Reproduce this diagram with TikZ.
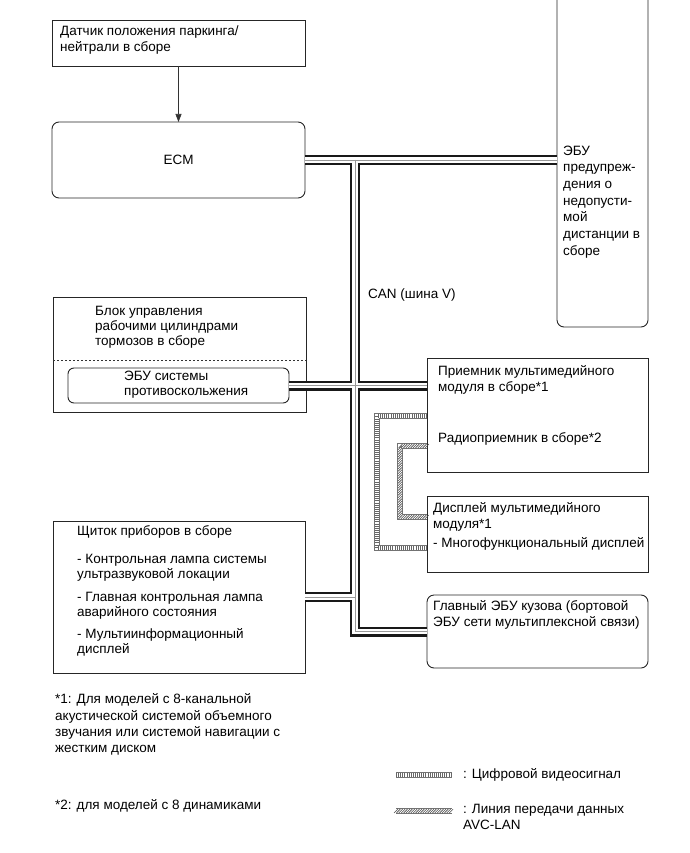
\documentclass[tikz,border=0pt]{standalone}
\usepackage{fontspec}
\setmainfont{Liberation Sans}
\usepackage{tikz}
\usetikzlibrary{arrows.meta, positioning, calc, decorations.markings}

\begin{document}
\begin{tikzpicture}[
  x=1pt, y=-1pt,
  font=\fontsize{13.5}{16}\selectfont,
  box/.style={draw=black!85, line width=0.9pt, inner sep=0pt, outer sep=0pt, anchor=north west},
  rbox/.style={box, rounded corners=7pt},
  txt/.style={align=left, inner sep=0pt, anchor=north west, execute at begin node=\strut},
  arr/.style={-{Triangle[length=8pt, width=6pt]}, line width=0.6pt, black!80},
  can/.style={line width=10pt, black!90, line join=miter,
              postaction={draw, white, line width=5.6pt},
              postaction={draw, black!40, line width=0.9pt}},
  video/.style={draw=black!55, line width=6pt, line join=miter,
                postaction={draw, white, line width=4.4pt},
                postaction={draw, black!60, line width=4.4pt, dash pattern=on 0.8pt off 1.3pt}},
  avc/.style={draw=black!55, line width=6pt, line join=miter,
              postaction={draw, white, line width=4.4pt},
              postaction={decorate, decoration={markings,
                mark=between positions 0 and 1 step 2.4pt with {\pgftransformresetnontranslations
                  \draw[black!70, line width=0.6pt] (-1.9pt,-1.9pt) -- (1.9pt,1.9pt);}}}}
]
\path[use as bounding box, clip] (0,0) rectangle (689,853);

\node[box, minimum width=253pt, minimum height=46pt] (sensor) at (52,20) {};
\node[txt, below right=5.5pt and 8pt of sensor.north west] (sensortxt) {Датчик положения паркинга/\\нейтрали в сборе};
\node[rbox, minimum width=253pt, minimum height=76pt] (ecm) at (52,122) {ECM};
\node[rbox, minimum width=91pt, minimum height=339pt] (warn) at (557,-12) {};
\node[txt, font=\fontsize{13.5}{16.7}\selectfont, below right=157.5pt and 6pt of warn.north west] (warntxt)
  {ЭБУ\\предупреж-\\дения о\\недопусти-\\мой\\дистанции в\\сборе};

\node[box, minimum width=253pt, minimum height=115pt] (brake) at (53,297) {};
\node[txt, font=\fontsize{13.5}{15}\selectfont, below right=9.5pt and 42pt of brake.north west] (braketxt)
  {Блок управления\\рабочими цилиндрами\\тормозов в сборе};
\draw[black!80, line width=0.8pt, dash pattern=on 2pt off 2pt]
  ($(brake.north west)+(0,63)$) -- ($(brake.north east)+(0,63)$);
\node[rbox, rounded corners=6pt, minimum width=221pt, minimum height=35pt] (abs) at (68,368) {};
\node[txt, font=\fontsize{13.5}{15}\selectfont, below right=2.5pt and 56pt of abs.north west] (abstxt)
  {ЭБУ системы\\противоскольжения};

\node[box, minimum width=252pt, minimum height=152pt] (cluster) at (53,521) {};
\node[txt, font=\fontsize{13.5}{15}\selectfont, below right=4.5pt and 24pt of cluster.north west] (clustertxt)
  {Щиток приборов в сборе\\[13pt]- Контрольная лампа системы\\ультразвуковой локации\\[8pt]- Главная контрольная лампа\\аварийного состояния\\[7pt]- Мультиинформационный\\дисплей};

\node[box, minimum width=221pt, minimum height=114pt] (rcv) at (427,358) {};
\node[txt, below right=7.5pt and 11pt of rcv.north west] (rcvtxt) {Приемник мультимедийного\\модуля в сборе*1};
\node[txt, below right=73.5pt and 11pt of rcv.north west] (radiotxt) {Радиоприемник в сборе*2};

\node[box, minimum width=221pt, minimum height=76pt] (dsp) at (427,496) {};
\node[txt, below right=6.5pt and 6pt of dsp.north west] (dsptxt)
  {Дисплей мультимедийного\\модуля*1\\[3pt]- Многофункциональный дисплей};

\node[rbox, minimum width=221pt, minimum height=73pt] (bcm) at (427,595) {};
\node[txt, below right=5pt and 6pt of bcm.north west] (bcmtxt)
  {Главный ЭБУ кузова (бортовой\\ЭБУ сети мультиплексной связи)};

\coordinate (jtop) at (355,160);
\node[anchor=west, inner sep=0pt] (canlbl) at (368,295) {CAN (шина V)};

\draw[arr] (sensor) -- (ecm);

\draw[can] (ecm.east) -- (ecm.east -| warn.west)
  (jtop) |- (bcm.west)
  (abs.east) -- (abs.east -| rcv.west)
  (cluster.east) -- (cluster.east -| jtop);

\draw[video] ($(rcv.north west)+(0,58)$) -- ++(-50,0) |- ($(dsp.north west)+(0,52)$);
\draw[avc] ($(rcv.north west)+(0,88)$) -- ++(-27,0) |- ($(dsp.north west)+(0,21)$);

\node[txt, font=\fontsize{13.5}{16.4}\selectfont] (note1) at (55,693.5)
  {*1: Для моделей с 8-канальной\\акустической системой объемного\\звучания или системой навигации с\\жестким диском};
\node[txt] (note2) at (55,798.5) {*2: для моделей с 8 динамиками};

\coordinate (vidA) at (396,775);
\coordinate (vidB) at (452,775);
\coordinate (avcA) at (396,811);
\coordinate (avcB) at (452,811);
\draw[video] (vidA) -- (vidB);
\draw[avc] (avcA) -- (avcB);
\node[anchor=west, inner sep=0pt, right=11pt of vidB] (vidtxt) {: Цифровой видеосигнал};
\node[txt] (avctxt) at (463,804.5) {: Линия передачи данных\\AVC-LAN};
\end{tikzpicture}
\end{document}
